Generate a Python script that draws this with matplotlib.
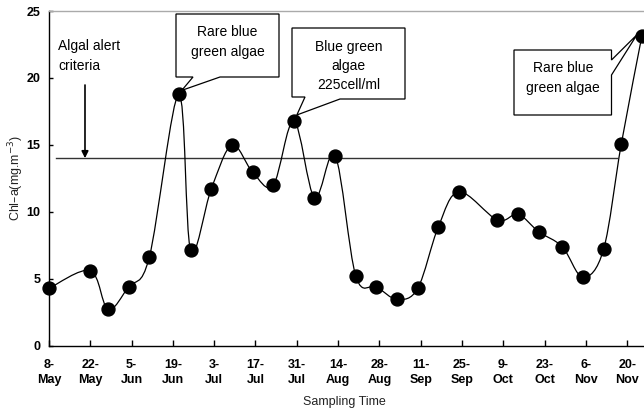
import matplotlib
matplotlib.use("Agg")
import matplotlib.pyplot as plt
import numpy as np
from matplotlib.path import Path
from matplotlib.patches import PathPatch, Polygon

# ---- data ----
sample_days = [0, 14, 20, 27, 34, 44, 48, 55, 62, 69, 76, 83, 90, 97, 104, 111,
               118, 125, 132, 139, 152, 159, 166, 174, 181, 188, 194, 201]
chla = [4.27, 5.59, 2.7, 4.4, 6.6, 18.77, 7.14, 11.7, 14.98, 12.97, 11.97, 16.78,
        11.05, 14.19, 5.19, 4.4, 3.45, 4.27, 8.88, 11.49, 9.38, 9.8, 8.5, 7.38,
        5.1, 7.19, 15.06, 23.15]
tick_days = [0, 14, 28, 42, 56, 70, 84, 98, 112, 126, 140, 154, 168, 182, 196]
tick_labels = ["8-\nMay", "22-\nMay", "5-\nJun", "19-\nJun", "3-\nJul", "17-\nJul",
               "31-\nJul", "14-\nAug", "28-\nAug", "11-\nSep", "25-\nSep", "9-\nOct",
               "23-\nOct", "6-\nNov", "20-\nNov"]
y_ticks = [0, 5, 10, 15, 20, 25]
alert_level = 14

W, H = 644, 413
fig = plt.figure(figsize=(W / 100, H / 100), dpi=100)
ax = fig.add_axes([49 / W, 1 - 345.5 / H, (644 - 49) / W, (345.5 - 11) / H])
ax.set_xlim(0, 201.7)
ax.set_ylim(0, 25)

# smooth (Catmull-Rom -> cubic Bezier) line through the data
x = np.array(sample_days, float)
y = np.array(chla, float)
pts = np.column_stack([x, y])
verts = [tuple(pts[0])]
codes = [Path.MOVETO]
n = len(pts)
for i in range(n - 1):
    p0 = pts[i - 1] if i > 0 else pts[i]
    p1 = pts[i]
    p2 = pts[i + 1]
    p3 = pts[i + 2] if i + 2 < n else pts[i + 1]
    c1 = p1 + (p2 - p0) / 6.0
    c2 = p2 - (p3 - p1) / 6.0
    verts += [tuple(c1), tuple(c2), tuple(p2)]
    codes += [Path.CURVE4] * 3
ax.add_patch(PathPatch(Path(verts, codes), facecolor="none", edgecolor="black",
                       lw=0.9, clip_on=False, zorder=3))
ax.plot(x, y, "o", color="black", markersize=9.3, clip_on=False, zorder=4)

# alert line
ax.plot([2.4, 192.5], [alert_level, alert_level], color="#333333", lw=1.0, zorder=2)

# spines / ticks
for s in ["left", "bottom"]:
    ax.spines[s].set_color("black")
    ax.spines[s].set_linewidth(1.0)
ax.spines["top"].set_color("#aaaaaa")
ax.spines["top"].set_linewidth(1.0)
ax.spines["right"].set_visible(False)

ax.set_xticks(tick_days)
ax.set_xticklabels(tick_labels, fontsize=9, fontweight="bold",
                   family="Liberation Sans", linespacing=1.3)
ax.set_yticks(y_ticks)
ax.set_yticklabels([str(v) for v in y_ticks], fontsize=9, fontweight="bold",
                   family="Liberation Sans")
ax.tick_params(axis="x", direction="in", length=4, width=1, pad=10)
ax.tick_params(axis="y", direction="in", length=3, width=1, pad=6)

fig.text(344 / W, 1 - 401.5 / H, "Sampling Time", ha="center", va="center",
         fontsize=9, family="Liberation Sans", color="#222222")
fig.text(16 / W, 1 - 178 / H, "Chl\u2013a(mg.m$^{-3}$)", ha="center", va="center",
         rotation=90, fontsize=9, family="Liberation Sans", color="#222222")

# annotations (layout in pixel coordinates)
def fp(px, py):
    return (px / W, 1 - py / H)

def data_to_fig(i):
    d = ax.transData.transform((sample_days[i], chla[i]))
    return tuple(fig.transFigure.inverted().transform(d))

def callout(poly_px, tip_index, tip_offset_px):
    tip = data_to_fig(tip_index)
    tip = (tip[0] + tip_offset_px[0] / W, tip[1] - tip_offset_px[1] / H)
    pts_f = []
    for p in poly_px:
        if p == "TIP":
            pts_f.append(tip)
        else:
            pts_f.append(fp(*p))
    fig.patches.append(Polygon(pts_f, closed=True, facecolor="white",
                               edgecolor="black", lw=0.9,
                               transform=fig.transFigure, zorder=5))

# box 1 -> peak at 19-Jun
callout([(176, 14), (279, 14), (279, 77), (220, 77), "TIP", (193, 77), (176, 77)],
        5, (3, -4))
fig.text(227.5 / W, 1 - 42 / H, "Rare blue\ngreen algae", ha="center", va="center",
         fontsize=10, family="Liberation Sans", linespacing=1.5, zorder=6)

# box 2 -> 31-Jul point
callout([(292, 28), (405, 28), (405, 99), (340, 99), "TIP", (305, 97), (292, 97)],
        11, (3, -6))
fig.text(348.5 / W, 1 - 66 / H, "Blue green\nalgae\n225cell/ml", ha="center",
         va="center", fontsize=10, family="Liberation Sans", linespacing=1.45,
         zorder=6)

# box 3 -> last point
callout([(514, 50), (611.5, 50), (611.5, 60), "TIP", (611.5, 75), (611.5, 115),
         (514, 115)], 27, (-5, -1))
fig.text(562.7 / W, 1 - 78 / H, "Rare blue\ngreen algae", ha="center", va="center",
         fontsize=10, family="Liberation Sans", linespacing=1.5, zorder=6)

# alert criteria label and arrow
fig.text(58 / W, 1 - 56 / H, "Algal alert\ncriteria", ha="left", va="center",
         fontsize=10, family="Liberation Sans", linespacing=1.5)
ax.annotate("", xy=(12.2, alert_level), xycoords="data",
            xytext=fp(85, 85), textcoords="figure fraction",
            arrowprops=dict(arrowstyle="-|>", color="black", lw=1.2,
                            mutation_scale=10, shrinkA=0, shrinkB=0))

fig.savefig("out.png", dpi=100)
